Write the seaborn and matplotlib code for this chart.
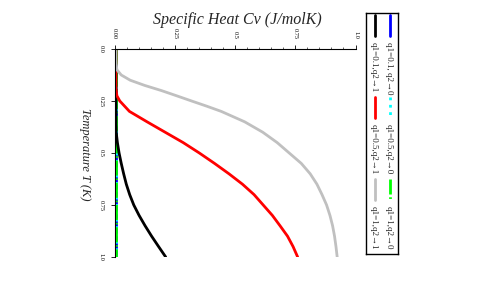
"""Specific heat Cv vs temperature, drawn rotated like the source figure."""
import numpy as np
import pandas as pd
import matplotlib
matplotlib.use("Agg")
import matplotlib.pyplot as plt
import seaborn as sns

# values
temperature = [0.0, 0.05, 0.075, 0.1, 0.125, 0.15, 0.175, 0.2, 0.225, 0.25, 0.275, 0.3, 0.35,
               0.4, 0.45, 0.5, 0.55, 0.6, 0.65, 0.7, 0.75, 0.8, 0.85, 0.9, 0.95, 1.0]
cv_q01_q20 = [0.006, 0.006, 0.006, 0.006, 0.006, 0.006, 0.006, 0.006, 0.006, 0.006, 0.006, 0.006, 0.006,
              0.006, 0.006, 0.006, 0.006, 0.006, 0.006, 0.006, 0.006, 0.006, 0.006, 0.006, 0.006, 0.006]
cv_q05_q20 = [0.006, 0.006, 0.006, 0.006, 0.006, 0.006, 0.006, 0.006, 0.006, 0.006, 0.006, 0.006, 0.006,
              0.006, 0.006, 0.006, 0.006, 0.006, 0.006, 0.006, 0.006, 0.006, 0.006, 0.006, 0.006, 0.006]
cv_q1_q20 = [0.006, 0.006, 0.006, 0.006, 0.006, 0.006, 0.006, 0.006, 0.006, 0.006, 0.006, 0.006, 0.006,
             0.006, 0.006, 0.006, 0.006, 0.006, 0.006, 0.006, 0.006, 0.006, 0.006, 0.006, 0.006, 0.006]
cv_q01_q21 = [0.006, 0.006, 0.006, 0.006, 0.006, 0.006, 0.006, 0.006, 0.006, 0.006, 0.006, 0.006, 0.006,
              0.007, 0.012, 0.019, 0.028, 0.038, 0.049, 0.063, 0.08, 0.102, 0.127, 0.154, 0.183, 0.2125]
cv_q05_q21 = [0.006, 0.006, 0.006, 0.006, 0.006, 0.006, 0.006, 0.007, 0.01, 0.022, 0.042, 0.062, 0.135,
              0.21, 0.285, 0.352, 0.415, 0.475, 0.531, 0.579, 0.617, 0.655, 0.687, 0.718, 0.741, 0.76]
cv_q1_q21 = [0.006, 0.006, 0.007, 0.01, 0.028, 0.065, 0.125, 0.195, 0.258, 0.32, 0.383, 0.443, 0.54,
             0.615, 0.675, 0.725, 0.775, 0.812, 0.84, 0.861, 0.88, 0.894, 0.905, 0.913, 0.919, 0.924]

labels = ["q1=0.1, q2\u21920", "q1=0.5,q2\u21920", "q1=1,q2\u21920",
          "q1=0.1,q2\u21921", "q1=0.5,q2\u21921", "q1=1,q2\u21921"]
series = [cv_q01_q20, cv_q05_q20, cv_q1_q20, cv_q01_q21, cv_q05_q21, cv_q1_q21]
colors = ["#0000ff", "#00ffff", "#00ff00", "#000000", "#ff0000", "#c0c0c0"]
styles = ["-", ":", (0, (5.4, 1, 0.6, 1)), "-", "-", "-"]

cv_ticks = [0.0, 0.25, 0.5, 0.75, 1.0]
cv_ticklabels = ["0.00", "0.25", "0.5", "0.75", "1.0"]
t_ticks = [0.0, 0.25, 0.5, 0.75, 1.0]
t_ticklabels = ["0.0", "0.25", "0.5", "0.75", "1.0"]

df = pd.concat([pd.DataFrame({"T": temperature, "Cv": s, "series": lab})
                for s, lab in zip(series, labels)], ignore_index=True)

sns.set_style("ticks")
serif = ["Liberation Serif", "DejaVu Serif"]
plt.rcParams["font.family"] = serif

W, H = 491, 284
fig = plt.figure(figsize=(W / 100, H / 100), dpi=100)
ax = fig.add_axes([114.5 / W, 1 - 257 / H, 241 / W, 208 / H])

for lab, col, ls in zip(labels, colors, styles):
    sns.lineplot(data=df[df["series"] == lab], x="Cv", y="T", orient="y",
                 color=col, linestyle=ls, lw=2.0, errorbar=None, ax=ax)

ax.set_xlim(0, 1)
ax.set_ylim(1, 0)
ax.xaxis.tick_top()
ax.set_xticks(cv_ticks)
ax.set_xticklabels(cv_ticklabels, rotation=-90, fontsize=4.5)
ax.set_xticks(np.arange(0, 1.0001, 0.05), minor=True)
ax.set_yticks(t_ticks)
ax.set_yticklabels(t_ticklabels, rotation=-90, va="center", fontsize=4.5)
ax.tick_params(which="major", length=3, width=0.6, colors="black")
ax.tick_params(axis="x", which="major", pad=4)
ax.tick_params(axis="y", which="major", pad=5)
ax.tick_params(which="minor", length=1.5, width=0.5, top=True, bottom=False)
ax.set_xlabel("")
ax.set_ylabel("")
for side in ["right", "bottom"]:
    ax.spines[side].set_visible(False)
for side in ["top", "left"]:
    ax.spines[side].set_linewidth(0.8)
    ax.spines[side].set_color("black")

fig.text(237 / W, 1 - 20 / H, "Specific Heat Cv (J/molK)", ha="center", va="center",
         style="italic", fontsize=11.5, family=serif)
fig.text(85 / W, 1 - 154 / H, "Temperature T (K)", ha="center", va="center",
         rotation=-90, style="italic", fontsize=9, family=serif)

# legend box, drawn rotated by hand
lax = fig.add_axes([366 / W, 1 - 254 / H, 32 / W, 241 / H])
lax.set_xlim(0, 32)
lax.set_ylim(241, 0)
lax.set_xticks([])
lax.set_yticks([])
for sp in lax.spines.values():
    sp.set_linewidth(1.0)
    sp.set_color("black")
for i, (lab, col, ls) in enumerate(zip(labels, colors, styles)):
    cx = 24 if i < 3 else 9
    y0 = 2 + 82 * (i % 3)
    lax.plot([cx, cx], [y0, y0 + 21], color=col, linestyle=ls, lw=2.0)
    lax.text(cx - 1, y0 + 27, lab, rotation=-90, ha="center", va="top",
             fontsize=6.5, family=serif)

fig.savefig("out.png", dpi=100, facecolor="white")
